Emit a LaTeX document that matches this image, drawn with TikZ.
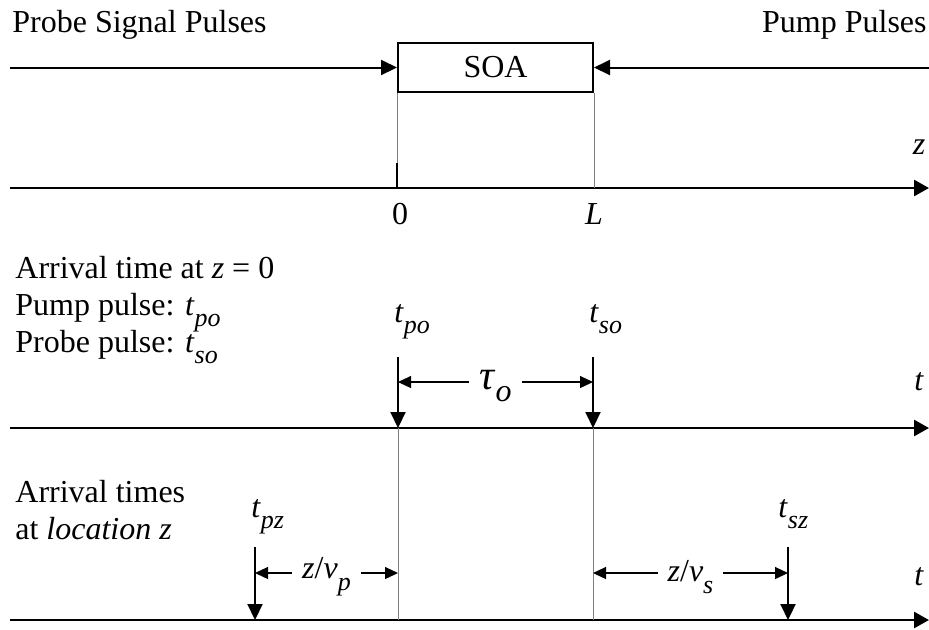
\documentclass[tikz,border=0pt]{standalone}
\usepackage{fontspec}
\setmainfont{Liberation Serif}
\usetikzlibrary{arrows.meta, positioning, calc}
\newcommand{\lsub}[2]{\textit{#1}\raisebox{-0.8ex}{\fontsize{13}{13}\selectfont\itshape #2}}
\tikzset{
    axis_line/.style={-{Triangle[length=7.5pt,width=8pt]}, line width=1.3pt},
    pulse_arrow/.style={-{Triangle[length=8pt,width=7.5pt]}, line width=1pt},
    guide_line/.style={gray, line width=0.5pt},
    dim_arrow/.style={{Triangle[length=6.5pt,width=6pt]}-{Triangle[length=6.5pt,width=6pt]}, line width=0.6pt},
    soa_box/.style={rectangle, draw, line width=1pt, minimum width=97.5pt, minimum height=24.5pt, inner sep=0pt},
    lbl/.style={inner sep=0pt},
    gap_lbl/.style={fill=white, inner xsep=5pt, inner ysep=1pt, yshift=-2pt}
}
\begin{document}
\begin{tikzpicture}[x=0.5pt, y=-0.5pt, font=\fontsize{16}{19}\selectfont]
			\useasboundingbox (0,0) rectangle (929,629);
			\node (soa) [soa_box] at (495.5,67.5) {SOA};
			\node (probe) [lbl, anchor=west] at (12,25) {Probe Signal Pulses};
			\node (pump) [lbl, anchor=east] at (927,25) {Pump Pulses};
			\coordinate (probein) at (10,67.5);
			\coordinate (pumpin) at (929,67.5);
			\draw [pulse_arrow] (probein) -- (soa.west);
			\draw [pulse_arrow] (pumpin) -- (soa.east);
			
			\coordinate (za) at (10,188);
			\coordinate (zb) at (929,188);
			\draw [axis_line] (za) -- (zb);
			\draw [guide_line] (soa.south west) -- (soa.south west |- za);
			\draw [guide_line] (soa.south east) -- (soa.south east |- za);
			\coordinate (zero) at (soa.south west |- za);
			\draw [line width=0.8pt] (zero) -- ++(0,-25);
			\node (zlbl) [lbl] at (919,147) {\textit{z}};
			\node (zerolbl) [lbl] at (400,214) {0};
			\node (llbl) [lbl] at (594,214) {\textit{L}};
			
			\node (arra) [lbl, anchor=base west] at (15,278) {Arrival time at \textit{z} = 0};
			\node (arrb) [lbl, anchor=base west] at (15,315) {Pump pulse: \lsub{t}{po}};
			\node (arrc) [lbl, anchor=base west] at (15,352) {Probe pulse: \lsub{t}{so}};
			
			\coordinate (ta) at (10,428);
			\coordinate (tb) at (929,428);
			\draw [axis_line] (ta) -- (tb);
			\node (tlbla) [lbl] at (919,382) {\textit{t}};
			\coordinate (tpo) at (398,428);
			\coordinate (tso) at (593,428);
			\coordinate (tpotop) at (398,357);
			\coordinate (tsotop) at (593,357);
			\draw [pulse_arrow] (tpotop) -- (tpo);
			\draw [pulse_arrow] (tsotop) -- (tso);
			\node (tpolbl) [lbl, anchor=base west] at (394,322) {\lsub{t}{po}};
			\node (tsolbl) [lbl, anchor=base west] at (589,322) {\lsub{t}{so}};
			\draw [dim_arrow] (398,382) -- node [gap_lbl] {{\fontsize{21}{21}\selectfont\textit{τ}}\raisebox{-0.8ex}{\itshape o}} (593,382);
			
			\node (arrd) [lbl, anchor=base west] at (15,502) {Arrival times};
			\node (arre) [lbl, anchor=base west] at (15,539) {at \textit{location z}};
			
			\coordinate (sa) at (10,620);
			\coordinate (sb) at (929,620);
			\draw [axis_line] (sa) -- (sb);
			\node (tlblb) [lbl] at (919,577) {\textit{t}};
			\draw [guide_line] (tpo) -- (tpo |- sa);
			\draw [guide_line] (tso) -- (tso |- sa);
			\coordinate (tpz) at (255,620);
			\coordinate (tsz) at (788,620);
			\coordinate (tpztop) at (255,547);
			\coordinate (tsztop) at (788,547);
			\draw [pulse_arrow] (tpztop) -- (tpz);
			\draw [pulse_arrow] (tsztop) -- (tsz);
			\node (tpzlbl) [lbl, anchor=base west] at (251,517) {\lsub{t}{pz}};
			\node (tszlbl) [lbl, anchor=base west] at (778,517) {\lsub{t}{sz}};
			\draw [dim_arrow] (255,573) -- node [gap_lbl] {\textit{z}/\lsub{v}{p}} (398,573);
			\draw [dim_arrow] (593,573) -- node [gap_lbl] {\textit{z}/\lsub{v}{s}} (788,573);
		\end{tikzpicture}
\end{document}
